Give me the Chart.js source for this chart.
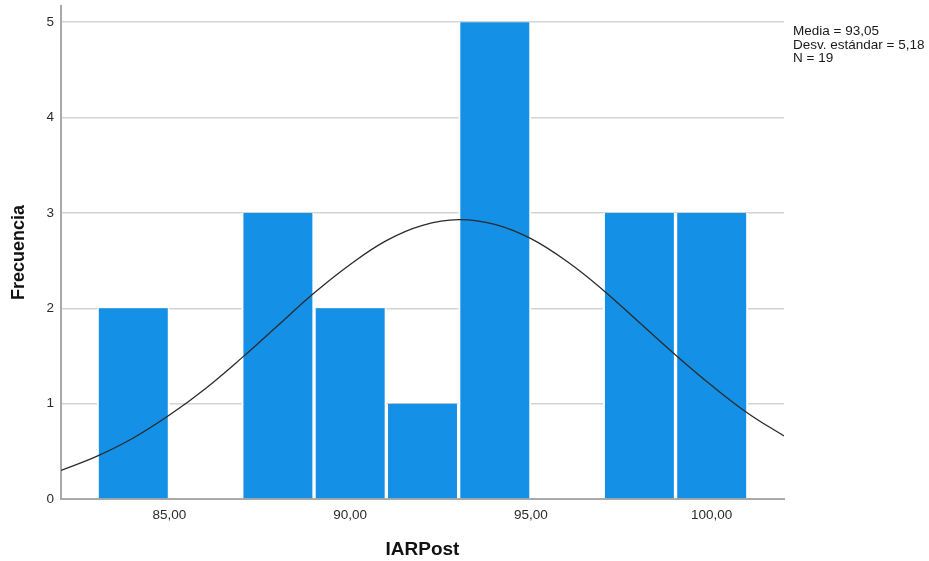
<!DOCTYPE html>
<html>
<head>
<meta charset="utf-8">
<script src="https://cdn.jsdelivr.net/npm/chart.js@4/dist/chart.umd.min.js"></script>
<style>
  html, body { margin: 0; padding: 0; background: #ffffff; }
  canvas { display: block; }
</style>
</head>
<body>
<canvas id="c" width="929" height="561"></canvas>
<script>
// ---- data ----
const binStarts = [83, 85, 87, 89, 91, 93, 95, 97, 99];
const binWidth = 2;
const counts = [2, 0, 3, 2, 1, 5, 0, 3, 3];

// normal curve (x in IARPost units, y in frequency)
const curveX = [82, 83, 84, 85, 86, 87, 88, 89, 90, 91, 92, 93, 94, 95, 96, 97, 98, 99, 100, 101, 102];
const curveY = [0.30, 0.45, 0.64, 0.88, 1.16, 1.48, 1.82, 2.16, 2.46, 2.71, 2.87, 2.93, 2.88, 2.73, 2.49, 2.19, 1.85, 1.51, 1.19, 0.90, 0.66];

const xTicks = [85, 90, 95, 100];
const yTicks = [0, 1, 2, 3, 4, 5];
const statsLines = ['Media = 93,05', 'Desv. estándar = 5,18', 'N = 19'];
const xTitle = 'IARPost';
const yTitle = 'Frecuencia';

// ---- chart ----
const FONT = '"Liberation Sans", Arial, sans-serif';

const barData = binStarts.map((s, i) => ({ x: s + binWidth / 2, y: counts[i] }));
const lineData = curveX.map((x, i) => ({ x: x, y: curveY[i] }));

const statsPlugin = {
  id: 'stats',
  beforeDraw(chart) {
    const ctx = chart.ctx;
    ctx.save();
    ctx.fillStyle = '#ffffff';
    ctx.fillRect(0, 0, chart.width, chart.height);
    ctx.restore();
  },
  afterDraw(chart) {
    const ctx = chart.ctx;
    ctx.save();
    ctx.font = '13.5px ' + FONT;
    ctx.fillStyle = '#1a1a1a';
    ctx.textAlign = 'left';
    ctx.textBaseline = 'alphabetic';
    const x = chart.chartArea.right + 9;
    statsLines.forEach((t, i) => ctx.fillText(t, x, 35 + i * 13.5));
    ctx.restore();
  }
};

function zeroPad(scale) {
  scale.paddingTop = 0;
  scale.paddingBottom = 0;
  scale.paddingLeft = 0;
  scale.paddingRight = 0;
}

new Chart(document.getElementById('c'), {
  data: {
    datasets: [
      {
        type: 'line',
        data: lineData,
        borderColor: '#2a2a2a',
        borderWidth: 1.3,
        pointRadius: 0,
        tension: 0.4,
        fill: false,
        order: 0
      },
      {
        type: 'bar',
        data: barData,
        backgroundColor: '#1490E6',
        borderColor: '#ffffff',
        borderWidth: { left: 2, right: 2, top: 0, bottom: 0 },
        borderSkipped: false,
        barPercentage: 1,
        categoryPercentage: 1,
        order: 1
      }
    ]
  },
  options: {
    responsive: false,
    animation: false,
    devicePixelRatio: 1,
    layout: { padding: { left: 0, right: 145, top: 6, bottom: 0 } },
    plugins: {
      legend: { display: false },
      tooltip: { enabled: false }
    },
    scales: {
      x: {
        type: 'linear',
        offset: false,
        min: 82,
        max: 102,
        afterBuildTicks: (scale) => { scale.ticks = xTicks.map(v => ({ value: v })); },
        afterFit: (scale) => { scale.height = 62; zeroPad(scale); },
        grid: { display: false, drawTicks: false, offset: false },
        border: { display: true, color: '#a9a9a9', width: 2 },
        ticks: {
          padding: 8,
          color: '#2b2b2b',
          font: { family: FONT, size: 13.5 },
          maxRotation: 0,
          callback: (v) => Number(v).toFixed(2).replace('.', ',')
        },
        title: {
          display: true,
          text: xTitle,
          color: '#111111',
          font: { family: FONT, size: 19, weight: 'bold', lineHeight: 1.2 },
          padding: { top: 0, bottom: 0 }
        }
      },
      y: {
        type: 'linear',
        min: 0,
        max: 5.17,
        afterBuildTicks: (scale) => { scale.ticks = yTicks.map(v => ({ value: v })); },
        afterFit: (scale) => { scale.width = 61; zeroPad(scale); },
        grid: { color: '#d3d3d3', lineWidth: 1.5, drawTicks: false },
        border: { display: true, color: '#a9a9a9', width: 2 },
        ticks: {
          padding: 7,
          color: '#2b2b2b',
          font: { family: FONT, size: 13.5 },
          callback: (v) => String(v)
        },
        title: {
          display: true,
          text: yTitle,
          color: '#111111',
          font: { family: FONT, size: 18, weight: 'bold', lineHeight: 1.2 },
          padding: { top: 8, bottom: 0 }
        }
      }
    }
  },
  plugins: [statsPlugin]
});
</script>
</body>
</html>
